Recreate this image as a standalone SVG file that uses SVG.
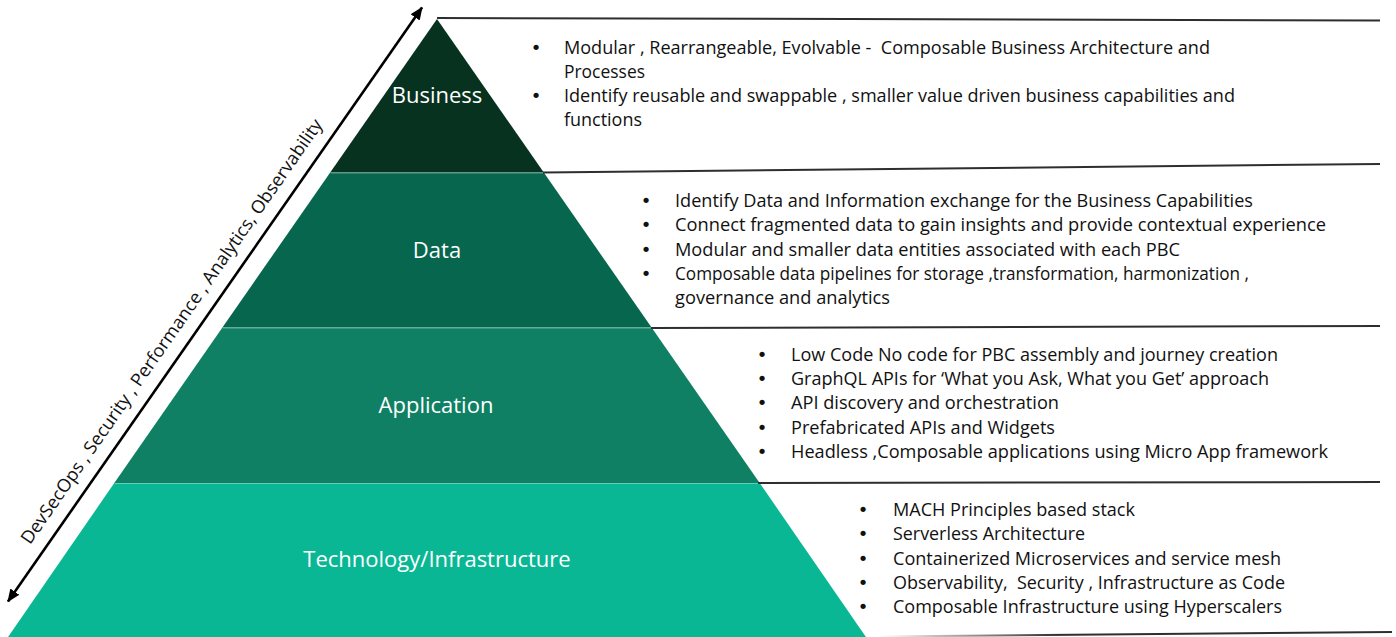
<svg xmlns="http://www.w3.org/2000/svg" width="1396" height="637" viewBox="0 0 1396 637">
<style>
.lbl{font-family:"Open Sans","Noto Sans","Liberation Sans",sans-serif;font-size:22px;fill:#ffffff;text-anchor:middle}
.txt{font-family:"Open Sans","Noto Sans","Liberation Sans",sans-serif;font-size:18px;fill:#111111;white-space:pre}
.bul{font-family:"DejaVu Sans","Liberation Sans",sans-serif;font-size:18px;fill:#111111;text-anchor:middle}
.side{font-family:"Open Sans","Noto Sans","Liberation Sans",sans-serif;font-size:18px;fill:#111111;text-anchor:middle}
.div{stroke:#2e2e2e;stroke-width:2;fill:none}
.sep{stroke:#ffffff;stroke-opacity:0.35;stroke-width:1}
.arr{stroke:#000000;stroke-width:2.6;fill:none}
</style>
<defs>
<marker id="ah" markerUnits="userSpaceOnUse" markerWidth="13" markerHeight="11" refX="12" refY="5.5" orient="auto-start-reverse">
<path d="M0,0 L13,5.5 L0,11 z" fill="#000000"/>
</marker>
<linearGradient id="fade" x1="0" y1="0" x2="1" y2="0">
<stop offset="0" stop-color="#2e2e2e" stop-opacity="0"/>
<stop offset="0.35" stop-color="#2e2e2e" stop-opacity="1"/>
<stop offset="1" stop-color="#2e2e2e" stop-opacity="1"/>
</linearGradient>
</defs>
<rect x="0" y="0" width="1396" height="637" fill="#ffffff"/>

<g id="layer-business">
<polygon points="437,19 543.8,172.5 330.2,172.5" fill="#083220"/>
<text class="lbl" x="437" y="103">Business</text>
<text class="bul" x="536" y="54">•</text>
<text class="txt" x="564" y="54" textLength="646" lengthAdjust="spacingAndGlyphs">Modular , Rearrangeable, Evolvable -  Composable Business Architecture and</text>
<text class="txt" x="564" y="78" textLength="81" lengthAdjust="spacingAndGlyphs">Processes</text>
<text class="bul" x="536" y="102">•</text>
<text class="txt" x="564" y="102" textLength="671" lengthAdjust="spacingAndGlyphs">Identify reusable and swappable , smaller value driven business capabilities and</text>
<text class="txt" x="564" y="126" textLength="78" lengthAdjust="spacingAndGlyphs">functions</text>
</g>

<g id="layer-data">
<polygon points="330.2,172.5 543.8,172.5 651.6,327.5 222.4,327.5" fill="#07664e"/>
<line class="sep" x1="331" y1="173" x2="543" y2="173"/>
<text class="lbl" x="437" y="258">Data</text>
<text class="bul" x="646" y="207">•</text>
<text class="txt" x="675" y="207" textLength="578" lengthAdjust="spacingAndGlyphs">Identify Data and Information exchange for the Business Capabilities</text>
<text class="bul" x="646" y="231">•</text>
<text class="txt" x="675" y="231" textLength="651" lengthAdjust="spacingAndGlyphs">Connect fragmented data to gain insights and provide contextual experience</text>
<text class="bul" x="646" y="255.5">•</text>
<text class="txt" x="675" y="255.5" textLength="505" lengthAdjust="spacingAndGlyphs">Modular and smaller data entities associated with each PBC</text>
<text class="bul" x="646" y="280">•</text>
<text class="txt" x="675" y="280" textLength="574" lengthAdjust="spacingAndGlyphs">Composable data pipelines for storage ,transformation, harmonization ,</text>
<text class="txt" x="675" y="304" textLength="215" lengthAdjust="spacingAndGlyphs">governance and analytics</text>
</g>

<g id="layer-application">
<polygon points="222.4,327.5 651.6,327.5 759.7,483 114.3,483" fill="#0f8064"/>
<line class="sep" x1="223" y1="328" x2="651" y2="328"/>
<text class="lbl" x="436" y="413">Application</text>
<text class="bul" x="762" y="360.5">•</text>
<text class="txt" x="791" y="360.5" textLength="487" lengthAdjust="spacingAndGlyphs">Low Code No code for PBC assembly and journey creation</text>
<text class="bul" x="762" y="385">•</text>
<text class="txt" x="791" y="385" textLength="478" lengthAdjust="spacingAndGlyphs">GraphQL APIs for ‘What you Ask, What you Get’ approach</text>
<text class="bul" x="762" y="409">•</text>
<text class="txt" x="791" y="409" textLength="268" lengthAdjust="spacingAndGlyphs">API discovery and orchestration</text>
<text class="bul" x="762" y="433.5">•</text>
<text class="txt" x="791" y="433.5" textLength="264" lengthAdjust="spacingAndGlyphs">Prefabricated APIs and Widgets</text>
<text class="bul" x="762" y="458">•</text>
<text class="txt" x="791" y="458" textLength="537" lengthAdjust="spacingAndGlyphs">Headless ,Composable applications using Micro App framework</text>
</g>

<g id="layer-technology">
<polygon points="114.3,483 759.7,483 868,640 6,640" fill="#0ab794"/>
<line class="sep" x1="115" y1="483.5" x2="759" y2="483.5"/>
<text class="lbl" x="437" y="567">Technology/Infrastructure</text>
<text class="bul" x="863" y="516">•</text>
<text class="txt" x="893" y="516" textLength="242" lengthAdjust="spacingAndGlyphs">MACH Principles based stack</text>
<text class="bul" x="863" y="540">•</text>
<text class="txt" x="893" y="540" textLength="192" lengthAdjust="spacingAndGlyphs">Serverless Architecture</text>
<text class="bul" x="863" y="564.5">•</text>
<text class="txt" x="893" y="564.5" textLength="388" lengthAdjust="spacingAndGlyphs">Containerized Microservices and service mesh</text>
<text class="bul" x="863" y="589">•</text>
<text class="txt" x="893" y="589" textLength="392" lengthAdjust="spacingAndGlyphs">Observability,  Security , Infrastructure as Code</text>
<text class="bul" x="863" y="613">•</text>
<text class="txt" x="893" y="613" textLength="389" lengthAdjust="spacingAndGlyphs">Composable Infrastructure using Hyperscalers</text>
</g>

<g id="dividers">
<line class="div" x1="437" y1="18" x2="1380" y2="20.5"/>
<line class="div" x1="543" y1="172.5" x2="1380" y2="164"/>
<line class="div" x1="651" y1="328" x2="1380" y2="326"/>
<line class="div" x1="758" y1="483" x2="1380" y2="482"/>
<path d="M880,636.5 L1392,632" stroke="url(#fade)" stroke-width="2" fill="none"/>
</g>

<g id="connectors">
<line class="arr" x1="8" y1="601.5" x2="422" y2="7.5" marker-start="url(#ah)" marker-end="url(#ah)"/>
<text class="side" transform="translate(176.7,334.9) rotate(-55.13)" x="0" y="0" textLength="513" lengthAdjust="spacingAndGlyphs">DevSecOps , Security , Performance , Analytics, Observability</text>
</g>
</svg>
